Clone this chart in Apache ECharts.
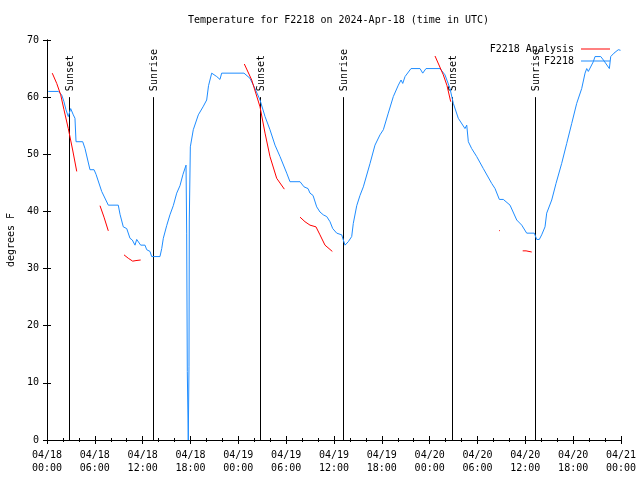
<!DOCTYPE html>
<html>
<head>
<meta charset="utf-8">
<script src="https://cdn.jsdelivr.net/npm/echarts@6/dist/echarts.min.js"></script>
<style>html,body{margin:0;padding:0;background:#fff}#c{width:640px;height:480px}</style>
</head>
<body>
<div id="c"></div>
<script>
// hours since 04/18 00:00 UTC
const xTickLabels = ['04/18\n00:00','04/18\n06:00','04/18\n12:00','04/18\n18:00','04/19\n00:00','04/19\n06:00','04/19\n12:00','04/19\n18:00','04/20\n00:00','04/20\n06:00','04/20\n12:00','04/20\n18:00','04/21\n00:00'];

const obsHours = [0.16,1.42,1.84,2.13,2.38,2.67,2.97,3.30,3.51,3.64,4.48,4.77,5.39,5.90,6.15,6.86,7.69,8.94,9.16,9.57,10.00,10.41,10.70,11.04,11.25,11.45,11.75,12.29,12.51,12.92,13.13,14.17,14.39,14.59,15.01,15.42,15.84,16.27,16.68,17.06,17.44,17.52,17.60,17.72,17.81,17.85,17.98,18.35,18.98,19.57,20.03,20.26,20.66,21.29,21.70,21.91,24.71,25.46,26.09,26.72,27.35,27.97,28.60,29.23,30.07,30.48,31.74,32.24,32.74,32.99,33.37,33.83,34.24,34.66,35.09,35.50,35.84,36.34,36.97,37.17,37.38,37.79,38.22,38.42,38.85,39.26,39.68,40.52,41.14,41.77,42.19,42.81,43.44,44.07,44.41,44.62,44.91,45.66,46.79,47.13,47.54,49.30,49.92,50.55,50.97,51.59,52.43,52.65,52.85,53.27,53.90,54.73,55.78,56.20,56.74,57.24,58.08,58.92,59.55,60.17,61.13,61.43,61.75,62.05,62.47,62.68,63.31,63.85,64.56,65.19,65.82,66.44,67.07,67.49,67.70,67.90,68.11,68.53,68.74,69.46,69.79,70.54,70.71,71.12,71.66,71.94];
const obsTemps = [61.0,61.0,60.4,59.2,57.8,56.6,58.0,56.9,56.3,52.2,52.2,51.0,47.3,47.3,46.5,43.5,41.1,41.1,39.5,37.3,37.0,35.3,35.0,34.1,35.1,35.0,34.1,34.1,33.3,33.0,32.1,32.1,33.5,35.3,37.5,39.4,41.0,43.2,44.5,46.5,48.1,36.2,12.0,0,12.8,38.5,51.3,54.3,56.9,58.3,59.5,62.0,64.2,63.6,63.1,64.2,64.2,63.3,61.5,59.5,56.6,54.3,51.6,49.6,46.7,45.2,45.2,44.3,44.0,43.2,42.8,40.8,39.9,39.4,39.1,38.2,37.0,36.2,35.9,35.0,34.1,34.7,35.6,37.9,41.0,42.8,44.3,48.4,51.6,53.4,54.3,57.2,60.1,62.1,63.0,62.4,63.6,65.0,65.0,64.2,65.0,65.0,63.9,61.5,58.9,56.3,54.5,55.1,52.2,51.0,49.6,47.5,44.9,44.0,42.1,42.1,41.1,38.5,37.6,36.2,36.2,35.1,35.1,35.9,37.3,39.7,42.0,44.9,48.4,51.9,55.4,58.9,61.5,64.2,65.0,64.5,64.2,66.2,67.1,67.1,66.5,65.0,67.1,67.7,68.3,68.2];

// analysis segments (null = gap)
const anaHours = [0.66,1.22,1.72,2.13,2.67,3.22,3.73,null,6.65,7.15,7.69,null,9.66,10.20,10.75,11.16,11.75,null,24.75,25.68,26.72,27.35,27.97,28.81,29.77,null,31.74,32.36,32.99,33.74,34.24,34.87,35.79,null,48.67,49.71,50.18,50.64,null,56.70,56.80,null,59.67,60.09,60.20,60.80];
const anaTemps = [64.2,62.4,60.4,57.8,54.5,50.75,47.0,null,41.0,39.0,36.6,null,32.4,31.8,31.3,31.4,31.5,null,65.8,63.0,58.3,53.7,49.6,45.8,43.9,null,39.0,38.2,37.6,37.3,35.9,34.1,33.0,null,67.2,63.9,62.0,59.2,null,36.7,36.6,null,33.1,33.1,32.9,32.9];

const sunNames = ['Sunset','Sunrise','Sunset','Sunrise','Sunset','Sunrise'];
const sunHours = [2.72,13.26,26.76,37.17,50.84,61.25];
const sunLineTop = 60;

const FONT = 'DejaVu Sans Mono';
const obsData = obsHours.map((h,i)=>[h,obsTemps[i]]);
const anaData = anaHours.map((h,i)=> h===null ? [null,null] : [h,anaTemps[i]]);
const sunData = sunHours.map((h)=>[h,sunLineTop]);

const chart = echarts.init(document.getElementById('c'), null, {renderer:'canvas'});
const axisCommon = {
  axisLine:{show:true, lineStyle:{color:'#000', width:1}},
  splitLine:{show:false},
  axisTick:{show:true, inside:true, length:4, lineStyle:{color:'#000'}}
};
chart.setOption({
  animation:false,
  backgroundColor:'#fff',
  title:{
    text:'Temperature for F2218 on 2024-Apr-18 (time in UTC)',
    left:183, top:10,
    textStyle:{fontFamily:FONT, fontSize:10, fontWeight:'normal', color:'#000'}
  },
  legend:[
    {data:['F2218 Analysis'], orient:'vertical', right:30, top:44, align:'right', padding:0,
     icon:'rect', itemWidth:29, itemHeight:1,
     textStyle:{fontFamily:FONT, fontSize:10, color:'#000', padding:[0,2,0,0]}},
    {data:['F2218'], orient:'vertical', right:30, top:56, align:'right', padding:0,
     icon:'rect', itemWidth:29, itemHeight:1,
     textStyle:{fontFamily:FONT, fontSize:10, color:'#000', padding:[0,2,0,0]}}
  ],
  grid:{left:47, right:19, top:40, bottom:40, containLabel:false, outerBoundsMode:'none'},
  xAxis:[
    Object.assign({}, axisCommon, {
      type:'value', min:0, max:72, interval:6, position:'bottom',
      minorTick:{show:true, splitNumber:3, length:2, lineStyle:{color:'#000'}},
      axisLabel:{show:true, margin:9, color:'#000', fontFamily:FONT, fontSize:10, lineHeight:13,
        formatter:(v)=>xTickLabels[Math.round(v/6)]}
    }),
    Object.assign({}, axisCommon, {
      type:'value', min:0, max:72, interval:6, position:'top',
      minorTick:{show:true, splitNumber:3, length:2, lineStyle:{color:'#000'}},
      axisLabel:{show:false}
    })
  ],
  yAxis:[
    Object.assign({}, axisCommon, {
      type:'value', min:0, max:70, interval:10, position:'left',
      name:'degrees F', nameLocation:'middle', nameGap:31, nameRotate:90,
      nameTextStyle:{fontFamily:FONT, fontSize:10, color:'#000'},
      axisLabel:{show:true, margin:8, color:'#000', fontFamily:FONT, fontSize:10}
    }),
    Object.assign({}, axisCommon, {
      type:'value', min:0, max:70, interval:10, position:'right',
      axisLabel:{show:false}
    })
  ],
  series:[
    {
      type:'custom', name:'sun', xAxisIndex:0, yAxisIndex:0, z:1, silent:true,
      data:sunData,
      renderItem:(params, api)=>{
        const h = api.value(0);
        const p0 = api.coord([h,0]);
        const p1 = api.coord([h,api.value(1)]);
        const x = Math.round(p0[0]) + 0.5;
        return {type:'group', children:[
          {type:'line', shape:{x1:x, y1:p0[1], x2:x, y2:p1[1]}, style:{stroke:'#000', lineWidth:1}},
          {type:'text', x:x+1, y:p1[1]-6, rotation:Math.PI/2,
           style:{text:sunNames[params.dataIndex], fill:'#000', font:'10px "'+FONT+'"', align:'left', verticalAlign:'middle'}}
        ]};
      }
    },
    {
      type:'line', name:'F2218', data:obsData, showSymbol:false, symbol:'none', z:3,
      lineStyle:{color:'#1e8cff', width:1}, itemStyle:{color:'#1e8cff'}
    },
    {
      type:'line', name:'F2218 Analysis', data:anaData, showSymbol:false, symbol:'none', z:4,
      connectNulls:false,
      lineStyle:{color:'#ff0000', width:1}, itemStyle:{color:'#ff0000'}
    }
  ]
});
</script>
</body>
</html>
